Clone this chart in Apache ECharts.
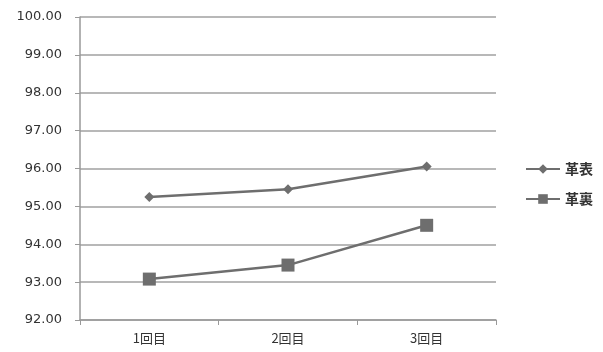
<!DOCTYPE html>
<html><head><meta charset="utf-8">
<script src="https://cdn.jsdelivr.net/npm/echarts@6/dist/echarts.min.js"></script>
<style>html,body{margin:0;padding:0;background:#fff}#c{width:603px;height:352px}</style>
</head><body><div id="c"></div>
<script>
var categories = ['1回目','2回目','3回目'];
var seriesNames = ['革表','革裏'];
var omoteValues = [95.25, 95.45, 96.05];
var uraValues = [93.08, 93.45, 94.50];

var chart = echarts.init(document.getElementById('c'));
var lineColor = '#6e6e6e';
chart.setOption({
  animation: false,
  backgroundColor: '#fff',
  grid: {left: 80, right: 107, top: 17, bottom: 32},
  legend: {
    orient: 'vertical', left: 520, top: 157, itemGap: 16,
    itemWidth: 34, itemHeight: 12,
    textStyle: {fontFamily: 'Noto Sans CJK JP', fontSize: 14, color: '#333', fontWeight: 'bold'},
    data: seriesNames
  },
  xAxis: {
    type: 'category', data: categories, boundaryGap: true,
    axisLine: {lineStyle: {color: '#999', width: 1.5}},
    axisTick: {show: true, length: 5, lineStyle: {color: '#999'}},
    axisLabel: {color: '#333', fontSize: 13, margin: 12, fontFamily: 'Noto Sans CJK JP'}
  },
  yAxis: {
    type: 'value', min: 92, max: 100, interval: 1,
    axisLine: {show: true, lineStyle: {color: '#999', width: 1.5}},
    axisTick: {show: true, length: 5, lineStyle: {color: '#999'}},
    splitLine: {lineStyle: {color: '#a0a0a0', width: 1.5}},
    axisLabel: {color: '#333', fontSize: 13, margin: 18, fontFamily: 'DejaVu Sans',
      formatter: function(v){ return v.toFixed(2); }}
  },
  series: [
    {name: seriesNames[0], type: 'line', data: omoteValues, symbol: 'diamond', symbolSize: 10,
      lineStyle: {color: lineColor, width: 2.5}, itemStyle: {color: lineColor}},
    {name: seriesNames[1], type: 'line', data: uraValues, symbol: 'rect', symbolSize: 13,
      lineStyle: {color: lineColor, width: 2.5}, itemStyle: {color: lineColor}}
  ]
});
</script></body></html>
